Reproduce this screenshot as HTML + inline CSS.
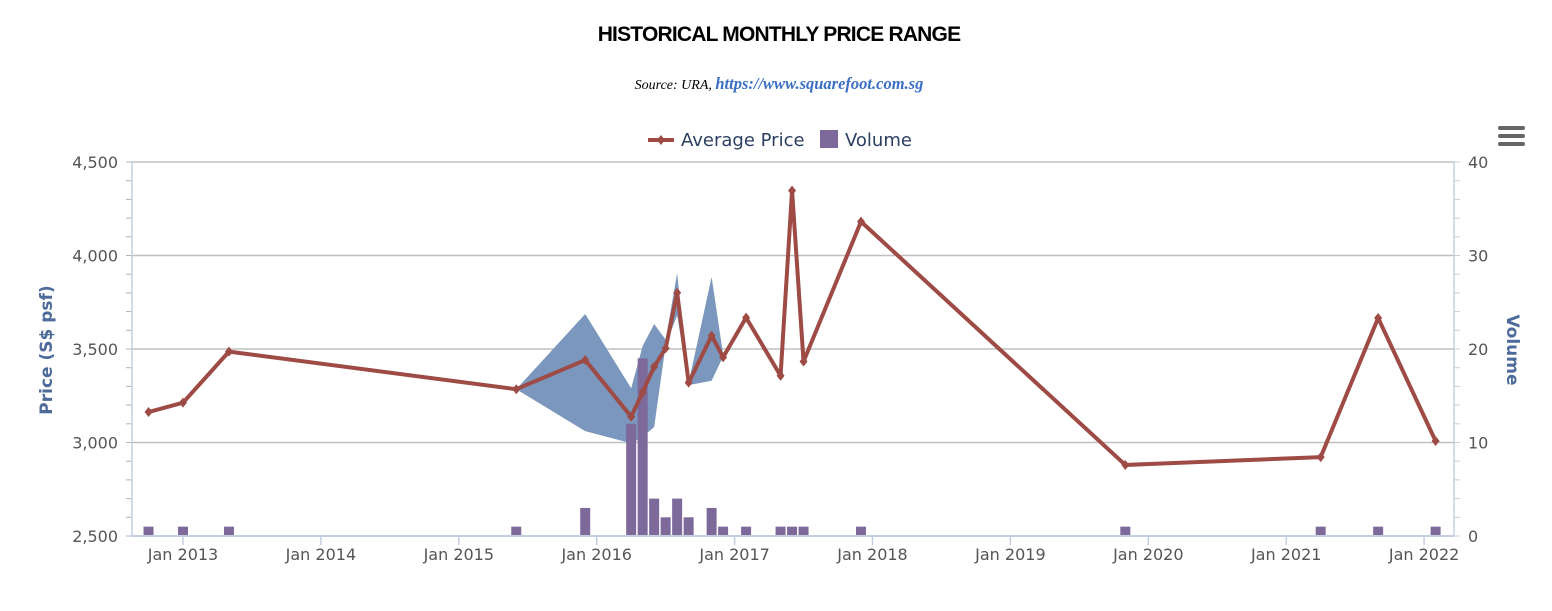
<!DOCTYPE html>
<html><head><meta charset="utf-8"><style>
body{margin:0;background:#fff;width:1552px;height:606px;overflow:hidden;font-family:"Liberation Sans",sans-serif}
svg text{font-family:"DejaVu Sans","Liberation Sans",sans-serif}
</style></head><body>
<svg id="chart" width="1552" height="606" xmlns="http://www.w3.org/2000/svg">
<text x="779" y="41" text-anchor="middle" style="font-family:'Liberation Sans',sans-serif;font-weight:bold;font-size:21px;letter-spacing:-0.8px" fill="#000">HISTORICAL MONTHLY PRICE RANGE</text>
<text x="779" y="89" text-anchor="middle" style="font-family:'Liberation Serif',serif;font-style:italic;font-size:14px" fill="#000">Source: URA, <tspan fill="#3a6fc4" font-weight="bold" font-size="16.5px">https://www.squarefoot.com.sg</tspan></text>
<g>
<g>
<line x1="648" y1="140" x2="674" y2="140" stroke="#9e4a45" stroke-width="4"/>
<path d="M661 135 L665 140 L661 145 L657 140Z" fill="#9e4a45"/>
<text x="681" y="146" font-size="18" fill="#2b3f60">Average Price</text></g>
<g>
<rect x="820" y="130" width="18" height="18" fill="#7d6a9b"/>
<text x="845" y="146" font-size="18" fill="#2b3f60">Volume</text></g>
</g>
<g fill="#666">
<rect x="1498" y="126" width="27" height="4" rx="2"/><rect x="1498" y="134" width="27" height="4" rx="2"/><rect x="1498" y="142" width="27" height="4" rx="2"/>
</g>
<g id="grid"></g><g id="area"></g><g id="bars"></g><g id="line"></g><g id="axes"></g>
<text transform="translate(52,350) rotate(-90)" text-anchor="middle" font-size="17" font-weight="bold" fill="#4d6b9a">Price (S$ psf)</text>
<text transform="translate(1507,350) rotate(90)" text-anchor="middle" font-size="17" font-weight="bold" fill="#4d6b9a">Volume</text>
</svg>
<script>
// months since Jan 2013
const months=[-3,0,4,29,35,39,40,41,42,43,44,46,47,49,52,53,54,59,82,99,104,109];
const avgPrice=[3163,3213,3486,3285,3441,3138,3270,3405,3504,3801,3320,3571,3456,3668,3357,4347,3433,4181,2880,2922,3666,3008];
const volume=[1,1,1,1,3,12,19,4,2,4,2,3,1,1,1,1,1,1,1,1,1,1];
const rangeMonths=[29,35,39,40,41,42,43,44,46,47];
const rangeLow=[3285,3061,2996,3030,3083,3520,3680,3307,3330,3460];
const rangeHigh=[3285,3687,3290,3516,3634,3550,3906,3320,3885,3470];
const priceTicks=[2500,3000,3500,4000,4500];
const volTicks=[0,10,20,30,40];
const xTickLabels=["Jan 2013","Jan 2014","Jan 2015","Jan 2016","Jan 2017","Jan 2018","Jan 2019","Jan 2020","Jan 2021","Jan 2022"];
const X0=132,X1=1454,Y0=536,Y1=162;
const xs=m=>183+m*137.9/12;
const yp=v=>Y0-(v-2500)/2000*(Y0-Y1);
const yv=v=>Y0-v/40*(Y0-Y1);
const NS="http://www.w3.org/2000/svg";
function mk(tag,attrs,parent){const e=document.createElementNS(NS,tag);for(const k in attrs)e.setAttribute(k,attrs[k]);document.getElementById(parent).appendChild(e);return e;}
priceTicks.forEach((t,i)=>{
  const g=mk('line',{x1:X0,x2:X1,y1:yp(t),y2:yp(t),stroke:'#c0c0c0','stroke-width':1.5},'grid');
  
  
  const l=mk('text',{x:118,y:yp(t)+6,'text-anchor':'end','font-size':16,fill:'#555'},'axes');l.textContent=t.toLocaleString('en-US');
  
  
});
volTicks.forEach(t=>{
  const l=mk('text',{x:1468,y:yv(t)+6,'font-size':16,fill:'#555'},'axes');l.textContent=t;
  
  
});
for(let v=2500;v<=4500;v+=100){mk('line',{x1:X0-6,x2:X0,y1:yp(v),y2:yp(v),stroke:'#a8b4c8'},'axes');}
for(let v=0;v<=40;v+=2){mk('line',{x1:X1,x2:X1+6,y1:yv(v),y2:yv(v),stroke:'#c4cfe0'},'axes');}
mk('line',{x1:X0,x2:X0,y1:Y1,y2:Y0,stroke:'#c4cfe0','stroke-width':1.5},'axes');
mk('line',{x1:X1,x2:X1,y1:Y1,y2:Y0,stroke:'#c4cfe0','stroke-width':1.5},'axes');
mk('line',{x1:X0,x2:X1,y1:Y0,y2:Y0,stroke:'#c4cfe0','stroke-width':2},'axes');
xTickLabels.forEach((t,i)=>{
  const x=xs(i*12);
  mk('line',{x1:x,x2:x,y1:Y0,y2:Y0+9,stroke:'#c4cfe0','stroke-width':1.5},'axes');
  const l=mk('text',{x:x,y:560,'text-anchor':'middle','font-size':16,fill:'#555'},'axes');l.textContent=t;
  
  
});
let pts=rangeMonths.map((m,i)=>xs(m)+','+yp(rangeHigh[i]));
pts=pts.concat(rangeMonths.map((m,i)=>xs(m)+','+yp(rangeLow[i])).reverse());
const area=mk('polygon',{points:pts.join(' '),fill:'#7b97bd'},'area');


months.forEach((m,i)=>{
  const b=mk('rect',{x:xs(m)-5,y:yv(volume[i]),width:10,height:Y0-yv(volume[i]),fill:'#7d6a9b'},'bars');
  
  
});
const ln=mk('polyline',{points:months.map((m,i)=>xs(m)+','+yp(avgPrice[i])).join(' '),fill:'none',stroke:'#9e4a45','stroke-width':4,'stroke-linejoin':'round'},'line');


months.forEach((m,i)=>{
  const x=xs(m),y=yp(avgPrice[i]);
  const p=mk('path',{d:`M${x} ${y-5}L${x+4} ${y}L${x} ${y+5}L${x-4} ${y}Z`,fill:'#9e4a45'},'line');
  
  
});
</script>
</body></html>
